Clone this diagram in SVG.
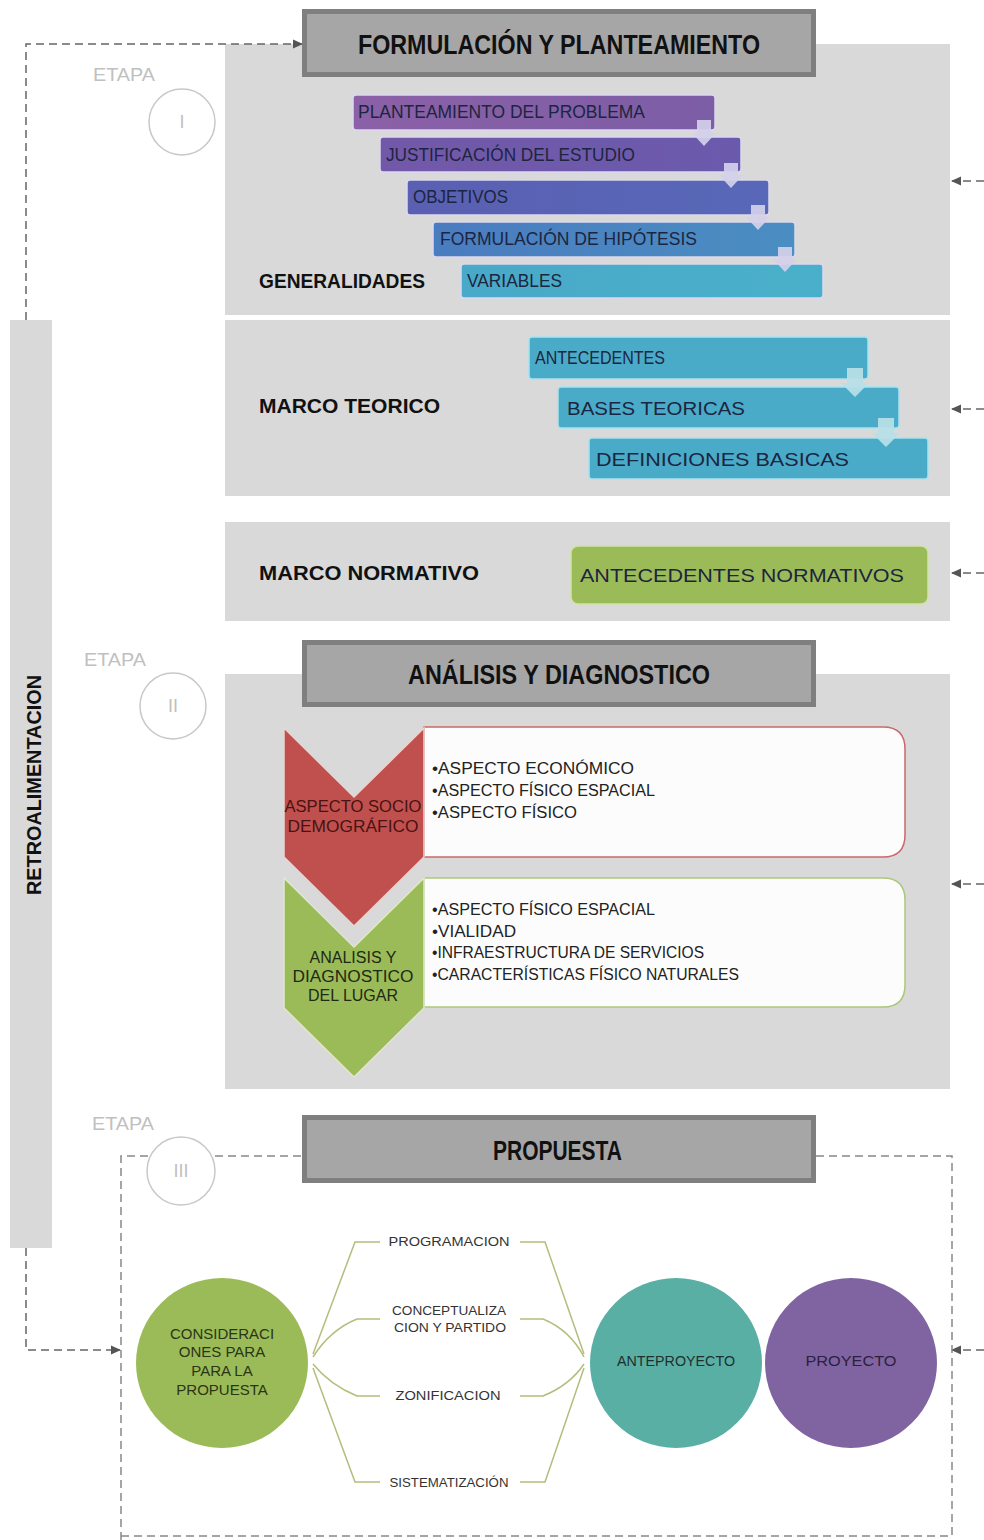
<svg xmlns="http://www.w3.org/2000/svg" width="984" height="1540" viewBox="0 0 984 1540">
<style>
.panel{fill:#d9d9d9}
.hdr{fill:#a6a6a6;stroke:#7f7f7f;stroke-width:5}
.hdrt{font-family:"Liberation Sans",Arial,sans-serif;font-weight:bold;font-size:27px;fill:#111}
.sec{font-family:"Liberation Sans",Arial,sans-serif;font-weight:bold;font-size:20px;fill:#111}
.etapa{font-family:"Liberation Sans",Arial,sans-serif;font-size:18px;fill:#c0c0c0}
.ring{fill:#fff;stroke:#c8c8c8;stroke-width:1.5}
.bar{stroke:#dcd8ef;stroke-width:1.5}
.bt{font-family:"Liberation Sans",Arial,sans-serif;font-size:18px;fill:#1c2540}
.sarrow{fill:#d4d0ea;opacity:0.92}
.tbar{fill:#4aabc9;stroke:#a8e2ee;stroke-width:1.5}
.tarrow{fill:#b9dfe8;opacity:0.92}
.dash{fill:none;stroke:#666;stroke-width:1.5;stroke-dasharray:8 5}
.bul{font-family:"Liberation Sans",Arial,sans-serif;font-size:16px;fill:#222}
.chev{font-family:"Liberation Sans",Arial,sans-serif;font-size:16px;text-anchor:middle}
.br{fill:none;stroke:#b4bd7c;stroke-width:1.5}
.lbl{font-family:"Liberation Sans",Arial,sans-serif;font-size:12px;fill:#333;text-anchor:middle}
.ct{font-family:"Liberation Sans",Arial,sans-serif;font-size:15px;text-anchor:middle}
</style>
<defs>
<marker id="ah" viewBox="0 0 10 10" refX="9" refY="5" markerWidth="11" markerHeight="10" orient="auto" markerUnits="userSpaceOnUse">
<path d="M0,0.5 L10,5 L0,9.5 Z" fill="#555"/>
</marker>
<linearGradient id="g1" x1="0" x2="1"><stop offset="0" stop-color="#8b60a6"/><stop offset="1" stop-color="#7c5ea6"/></linearGradient>
<linearGradient id="g2" x1="0" x2="1"><stop offset="0" stop-color="#7358a8"/><stop offset="1" stop-color="#6a5aad"/></linearGradient>
<linearGradient id="g3" x1="0" x2="1"><stop offset="0" stop-color="#5a5fb2"/><stop offset="1" stop-color="#5868b8"/></linearGradient>
<linearGradient id="g4" x1="0" x2="1"><stop offset="0" stop-color="#4a7cc0"/><stop offset="1" stop-color="#4a8ec2"/></linearGradient>
<linearGradient id="g5" x1="0" x2="1"><stop offset="0" stop-color="#49a9c8"/><stop offset="1" stop-color="#4ab0ca"/></linearGradient>
</defs>

<g id="panels">
<rect class="panel" x="225" y="44" width="725" height="271"/>
<rect class="panel" x="225" y="320" width="725" height="176"/>
<rect class="panel" x="225" y="522" width="725" height="99"/>
<rect class="panel" x="225" y="674" width="725" height="415"/>
</g>

<g id="retroalimentacion">
<rect class="panel" x="10" y="320" width="42" height="928"/>
<text class="sec" transform="translate(41,785) rotate(-90)" text-anchor="middle" textLength="220" lengthAdjust="spacingAndGlyphs" font-size="18">RETROALIMENTACION</text>
</g>

<g id="connectors">
<path class="dash" d="M26,320 L26,44 L302,44" marker-end="url(#ah)"/>
<path class="dash" d="M26,1248 L26,1350 L120,1350" marker-end="url(#ah)"/>
<path class="dash" d="M984,181 L952,181" marker-end="url(#ah)"/>
<path class="dash" d="M984,409 L952,409" marker-end="url(#ah)"/>
<path class="dash" d="M984,573 L952,573" marker-end="url(#ah)"/>
<path class="dash" d="M984,884 L952,884" marker-end="url(#ah)"/>
<path class="dash" d="M984,1350 L952,1350" marker-end="url(#ah)"/>
<path class="dash" style="stroke:#888" d="M148,1156 L121,1156 L121,1540 M215,1156 L302,1156 M816,1156 L952,1156 L952,1540 M121,1536 L952,1536"/>
<path class="br" d="M380,1242 L355,1242 L313,1354 M380,1319 L357,1319 Q330,1330 313,1357 M380,1396 L357,1396 Q330,1385 313,1364 M380,1482 L355,1482 L313,1368"/>
<path class="br" d="M520,1242 L545,1242 L584,1354 M520,1319 L543,1319 Q570,1330 584,1357 M520,1396 L543,1396 Q570,1385 584,1364 M520,1482 L545,1482 L584,1368"/>
</g>

<g id="hdr1">
<rect class="hdr" x="304.5" y="11.5" width="509" height="63"/>
<text class="hdrt" x="358" y="54" textLength="402" lengthAdjust="spacingAndGlyphs">FORMULACIÓN  Y PLANTEAMIENTO</text>
</g>
<g id="hdr2">
<rect class="hdr" x="304.5" y="642.5" width="509" height="62"/>
<text class="hdrt" x="408" y="684" textLength="302" lengthAdjust="spacingAndGlyphs">ANÁLISIS  Y DIAGNOSTICO</text>
</g>
<g id="hdr3">
<rect class="hdr" x="304.5" y="1117.5" width="509" height="63"/>
<text class="hdrt" x="493" y="1160" textLength="129" lengthAdjust="spacingAndGlyphs">PROPUESTA</text>
</g>

<g id="etapa1">
<text class="etapa" x="93" y="81" textLength="62" lengthAdjust="spacingAndGlyphs">ETAPA</text>
<circle class="ring" cx="182" cy="122" r="33"/>
<text class="etapa" x="182" y="128" text-anchor="middle">I</text>
</g>
<g id="etapa2">
<text class="etapa" x="84" y="666" textLength="62" lengthAdjust="spacingAndGlyphs">ETAPA</text>
<circle class="ring" cx="173" cy="706" r="33"/>
<text class="etapa" x="173" y="712" text-anchor="middle">II</text>
</g>
<g id="etapa3">
<text class="etapa" x="92" y="1130" textLength="62" lengthAdjust="spacingAndGlyphs">ETAPA</text>
<circle class="ring" cx="181" cy="1171" r="34"/>
<text class="etapa" x="181" y="1177" text-anchor="middle">III</text>
</g>

<g id="generalidades">
<text class="sec" x="259" y="288" textLength="166" lengthAdjust="spacingAndGlyphs">GENERALIDADES</text>
<rect class="bar" x="353" y="95" width="362" height="35" rx="3" fill="url(#g1)"/>
<text class="bt" x="358" y="118" textLength="287" lengthAdjust="spacingAndGlyphs">PLANTEAMIENTO DEL PROBLEMA</text>
<rect class="bar" x="380" y="137" width="361" height="35" rx="3" fill="url(#g2)"/>
<text class="bt" x="386" y="161" textLength="249" lengthAdjust="spacingAndGlyphs">JUSTIFICACIÓN DEL ESTUDIO</text>
<rect class="bar" x="407" y="180" width="362" height="35" rx="3" fill="url(#g3)"/>
<text class="bt" x="413" y="203" textLength="95" lengthAdjust="spacingAndGlyphs">OBJETIVOS</text>
<rect class="bar" x="433" y="222" width="362" height="35" rx="3" fill="url(#g4)"/>
<text class="bt" x="440" y="245" textLength="257" lengthAdjust="spacingAndGlyphs">FORMULACIÓN DE HIPÓTESIS</text>
<rect class="bar" x="461" y="264" width="362" height="34" rx="3" fill="url(#g5)" stroke="#a8e2ee"/>
<text class="bt" x="467" y="287" textLength="95" lengthAdjust="spacingAndGlyphs">VARIABLES</text>
<path class="sarrow" d="M697,120 H711 V133 H716 L704,146 L692,133 H697 Z"/>
<path class="sarrow" d="M724,163 H738 V175 H743 L731,188 L719,175 H724 Z"/>
<path class="sarrow" d="M751,205 H765 V217 H770 L758,230 L746,217 H751 Z"/>
<path class="sarrow" d="M778,247 H792 V259 H797 L785,272 L773,259 H778 Z"/>
</g>

<g id="marco-teorico">
<text class="sec" x="259" y="413" textLength="181" lengthAdjust="spacingAndGlyphs">MARCO TEORICO</text>
<rect class="tbar" x="529" y="337" width="339" height="42" rx="3"/>
<text class="bt" x="535" y="364" font-size="17" textLength="130" lengthAdjust="spacingAndGlyphs">ANTECEDENTES</text>
<rect class="tbar" x="558" y="387" width="341" height="41" rx="3"/>
<text class="bt" x="567" y="415" font-size="22" textLength="178" lengthAdjust="spacingAndGlyphs">BASES TEORICAS</text>
<rect class="tbar" x="589" y="438" width="339" height="41" rx="3"/>
<text class="bt" x="596" y="466" font-size="22" textLength="253" lengthAdjust="spacingAndGlyphs">DEFINICIONES BASICAS</text>
<path class="tarrow" d="M847,368 H863 V383 H869 L855,397 L841,383 H847 Z"/>
<path class="tarrow" d="M878,418 H894 V433 H900 L886,447 L872,433 H878 Z"/>
</g>

<g id="marco-normativo">
<text class="sec" x="259" y="580" textLength="220" lengthAdjust="spacingAndGlyphs">MARCO NORMATIVO</text>
<rect x="571" y="546" width="357" height="58" rx="7" fill="#9bbb59" stroke="#cfe2a6" stroke-width="1.5"/>
<text class="bt" x="580" y="582" font-size="22" textLength="324" lengthAdjust="spacingAndGlyphs">ANTECEDENTES NORMATIVOS</text>
</g>

<g id="box-socio">
<path d="M424,727 H883 Q905,727 905,749 V835 Q905,857 883,857 H424 Z" fill="#fcfcfc" stroke="#c96a68" stroke-width="1.5"/>
<text class="bul" x="432" y="774" textLength="202" lengthAdjust="spacingAndGlyphs">•ASPECTO ECONÓMICO</text>
<text class="bul" x="432" y="796" textLength="223" lengthAdjust="spacingAndGlyphs">•ASPECTO FÍSICO ESPACIAL</text>
<text class="bul" x="432" y="818" textLength="145" lengthAdjust="spacingAndGlyphs">•ASPECTO FÍSICO</text>
</g>
<g id="box-lugar">
<path d="M424,878 H883 Q905,878 905,900 V985 Q905,1007 883,1007 H424 Z" fill="#fcfcfc" stroke="#aac77a" stroke-width="1.5"/>
<text class="bul" x="432" y="915" textLength="223" lengthAdjust="spacingAndGlyphs">•ASPECTO FÍSICO ESPACIAL</text>
<text class="bul" x="432" y="937" textLength="84" lengthAdjust="spacingAndGlyphs">•VIALIDAD</text>
<text class="bul" x="432" y="958" textLength="272" lengthAdjust="spacingAndGlyphs">•INFRAESTRUCTURA DE SERVICIOS</text>
<text class="bul" x="432" y="980" textLength="307" lengthAdjust="spacingAndGlyphs">•CARACTERÍSTICAS FÍSICO NATURALES</text>
</g>
<g id="chev-lugar">
<path d="M284,878 L354,947 L424,878 L424,1008 L354,1077 L284,1008 Z" fill="#9bbb59" stroke="#dfe8cc" stroke-width="1.5"/>
<text class="chev" x="353" y="963" fill="#1f2a12">ANALISIS Y</text>
<text class="chev" x="353" y="982" fill="#1f2a12" textLength="121" lengthAdjust="spacingAndGlyphs">DIAGNOSTICO</text>
<text class="chev" x="353" y="1001" fill="#1f2a12">DEL LUGAR</text>
</g>
<g id="chev-socio">
<path d="M284,728 L354,797 L424,728 L424,857 L354,926 L284,857 Z" fill="#c0504d" stroke="#e9d3d3" stroke-width="1.5"/>
<text class="chev" x="353" y="812" fill="#4a1212" textLength="137" lengthAdjust="spacingAndGlyphs">ASPECTO SOCIO</text>
<text class="chev" x="353" y="832" fill="#4a1212" textLength="131" lengthAdjust="spacingAndGlyphs">DEMOGRÁFICO</text>
</g>

<g id="consideraciones">
<ellipse cx="222" cy="1363" rx="86" ry="85" fill="#9bbb59"/>
<text class="ct" x="222" y="1339" fill="#2a3514">CONSIDERACI</text>
<text class="ct" x="222" y="1357" fill="#2a3514">ONES PARA</text>
<text class="ct" x="222" y="1376" fill="#2a3514">PARA LA</text>
<text class="ct" x="222" y="1395" fill="#2a3514">PROPUESTA</text>
</g>
<g id="programacion"><text class="lbl" x="449" y="1246" textLength="121" lengthAdjust="spacingAndGlyphs">PROGRAMACION</text></g>
<g id="conceptualizacion">
<text class="lbl" x="449" y="1315" textLength="114" lengthAdjust="spacingAndGlyphs">CONCEPTUALIZA</text>
<text class="lbl" x="450" y="1332" textLength="112" lengthAdjust="spacingAndGlyphs">CION Y PARTIDO</text>
</g>
<g id="zonificacion"><text class="lbl" x="448" y="1400" textLength="105" lengthAdjust="spacingAndGlyphs">ZONIFICACION</text></g>
<g id="sistematizacion"><text class="lbl" x="449" y="1487" textLength="119" lengthAdjust="spacingAndGlyphs">SISTEMATIZACIÓN</text></g>
<g id="anteproyecto">
<ellipse cx="676" cy="1363" rx="86" ry="85" fill="#5aafa5"/>
<text class="ct" x="676" y="1366" font-size="14" fill="#1d2f2d" textLength="118" lengthAdjust="spacingAndGlyphs">ANTEPROYECTO</text>
</g>
<g id="proyecto">
<ellipse cx="851" cy="1363" rx="86" ry="85" fill="#8064a2"/>
<text class="ct" x="851" y="1366" font-size="15" fill="#2c2040" textLength="91" lengthAdjust="spacingAndGlyphs">PROYECTO</text>
</g>
</svg>
